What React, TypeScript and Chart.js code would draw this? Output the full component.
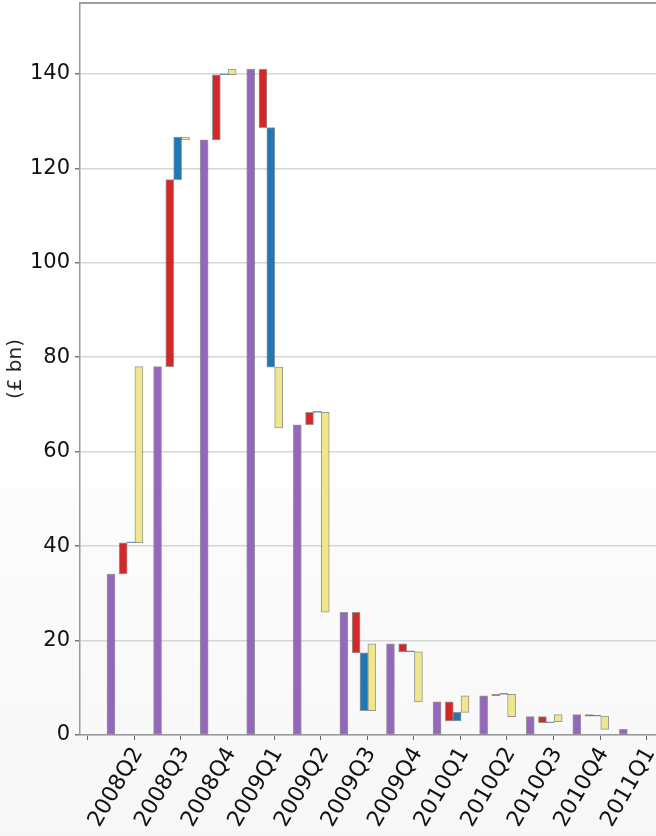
import React, { useEffect, useRef } from 'react';
import { Chart, registerables } from 'chart.js';

Chart.register(...registerables);

const quarters = ['2008Q2', '2008Q3', '2008Q4', '2009Q1', '2009Q2', '2009Q3', '2009Q4', '2010Q1', '2010Q2', '2010Q3', '2010Q4', '2011Q1'];
// opening level (purple bar, from zero)
const stockLevel = [34.1, 78.0, 126.0, 141.0, 65.7, 26.0, 19.3, 7.0, 8.3, 3.9, 4.3, 1.2];
// successive changes drawn as floating bars
const redChange: (number | null)[] = [6.6, 39.6, 13.8, -12.4, 2.6, -8.6, -1.7, -4.0, 0.3, -1.3, -0.3, null];
const blueChange: (number | null)[] = [0, 9.0, 0, -50.7, 0, -12.25, 0, 1.8, 0, 0.2, 0, null];
const yellowChange: (number | null)[] = [37.3, -0.6, 1.2, -12.9, -42.3, 14.15, -10.6, 3.5, -4.7, 1.5, -2.8, null];
const yTickStep = 20;
const yMax = 155;

const FONT = 'DejaVu Sans';

export default function App() {
  const ref = useRef<HTMLCanvasElement | null>(null);

  useEffect(() => {
    if (!ref.current) return;

    const offsets = [0, 0.262, 0.431, 0.6];
    const purple: any[] = [];
    const red: any[] = [];
    const blue: any[] = [];
    const yellow: any[] = [];
    quarters.forEach((_, i) => {
      const s = stockLevel[i];
      purple.push({ x: i + offsets[0], y: [0, s] });
      let cur = s;
      const r = redChange[i];
      if (r !== null) { red.push({ x: i + offsets[1], y: [cur, cur + r] }); cur += r; }
      const b = blueChange[i];
      if (b !== null) { blue.push({ x: i + offsets[2], y: [cur, cur + b] }); cur += b; }
      const yv = yellowChange[i];
      if (yv !== null) { yellow.push({ x: i + offsets[3], y: [cur, cur + yv] }); cur += yv; }
    });

    const barCommon = {
      barThickness: 8,
      borderWidth: 1,
      borderColor: 'rgba(70,70,70,0.55)',
      borderSkipped: false as const,
      minBarLength: 1,
      grouped: false,
    };

    const bgPlugin = {
      id: 'bg',
      beforeDraw(chart: any) {
        const { ctx, width, height } = chart;
        ctx.save();
        ctx.fillStyle = '#ffffff';
        ctx.fillRect(0, 0, width, height);
        const g = ctx.createLinearGradient(0, height * 0.585, 0, height);
        g.addColorStop(0, '#fcfcfc');
        g.addColorStop(1, '#f7f7f7');
        ctx.fillStyle = g;
        ctx.fillRect(0, height * 0.585, width, height);
        ctx.restore();
      },
      afterDraw(chart: any) {
        const { ctx, chartArea } = chart;
        ctx.save();
        ctx.strokeStyle = '#a0a0a0';
        ctx.lineWidth = 2;
        ctx.beginPath();
        ctx.moveTo(chartArea.left, chartArea.top);
        ctx.lineTo(chartArea.right, chartArea.top);
        ctx.stroke();
        ctx.restore();
      },
    };

    const chart = new Chart(ref.current, {
      type: 'bar',
      data: {
        datasets: [
          { ...barCommon, label: 'level', data: purple, backgroundColor: '#9467bd' },
          { ...barCommon, label: 'red', data: red, backgroundColor: '#d62728' },
          { ...barCommon, label: 'blue', data: blue, backgroundColor: '#1f77b4' },
          { ...barCommon, label: 'yellow', data: yellow, backgroundColor: '#f0e68c' },
        ],
      },
      options: {
        animation: false,
        responsive: true,
        maintainAspectRatio: false,
        layout: { padding: { top: 3, right: 0, left: 0, bottom: 0 } },
        plugins: { legend: { display: false }, tooltip: { enabled: false } },
        scales: {
          x: {
            type: 'linear',
            min: -0.665,
            max: 11.7,
            offset: false,
            grid: { display: true, drawOnChartArea: false, drawTicks: true, tickLength: 5, tickColor: '#666' },
            border: { display: true, color: '#9a9a9a', width: 1.5 },
            ticks: {
              stepSize: 1,
              includeBounds: false,
              autoSkip: false,
              minRotation: 60,
              maxRotation: 60,
              labelOffset: 27,
              padding: 3,
              color: '#111',
              font: { family: FONT, size: 22 },
              callback: (v: any) => quarters[v] ?? '',
            },
            afterFit: (s: any) => { s.height = 101; s.paddingLeft = 0; s.paddingRight = 0; },
          },
          y: {
            min: 0,
            max: yMax,
            grid: { color: '#d6d6d6', lineWidth: 1.5, tickLength: 5, tickColor: '#777' },
            border: { display: true, color: '#9a9a9a', width: 1.5 },
            ticks: {
              stepSize: yTickStep,
              includeBounds: false,
              padding: 5,
              color: '#111',
              font: { family: FONT, size: 21 },
            },
            title: {
              display: true,
              text: '(£ bn)',
              color: '#222',
              font: { family: FONT, size: 20 },
              padding: { top: 4, bottom: 0 },
            },
            afterFit: (s: any) => { s.width = 80; s.paddingTop = 0; s.paddingBottom = 0; },
          },
        },
      },
      plugins: [bgPlugin],
    } as any);

    return () => chart.destroy();
  }, []);

  return (
    <div style={{ position: 'fixed', left: 0, top: 0, width: 656, height: 836 }}>
      <canvas ref={ref} />
    </div>
  );
}
